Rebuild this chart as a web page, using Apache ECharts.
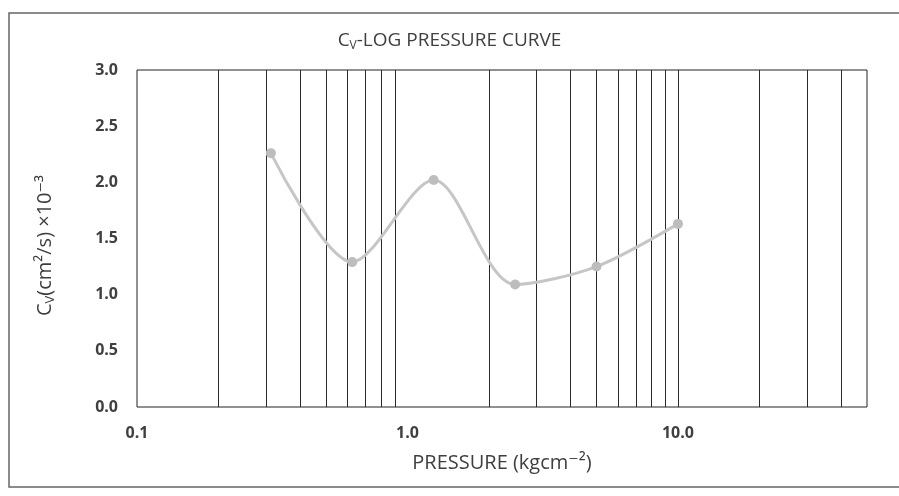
<!DOCTYPE html>
<html>
<head>
<meta charset="utf-8">
<script src="https://cdn.jsdelivr.net/npm/echarts@6/dist/echarts.min.js"></script>
<style>
  html, body { margin: 0; padding: 0; background: #fff; }
  #chart { width: 899px; height: 496px; }
</style>
</head>
<body>
<div id="chart"></div>
<script>
// pressure (kg/cm2) and Cv (cm2/s x10^-3)
const pressure = [0.3125, 0.625, 1.25, 2.5, 5, 10];
const cv = [2.26, 1.29, 2.02, 1.09, 1.25, 1.63];

// vertical log gridlines that show in the picture (no line at 1.0)
const gridX = [0.2, 0.3, 0.4, 0.5, 0.6, 0.7, 0.8, 0.9,
  2, 3, 4, 5, 6, 7, 8, 9, 10, 20, 30, 40];
const xLabels = [0.1, 1, 10];

const font = "'Open Sans', 'DejaVu Sans', sans-serif";
const textColor = "#3f3f3f";

const chart = echarts.init(document.getElementById("chart"));

chart.setOption({
  backgroundColor: "#fff",
  animation: false,
  title: {
    text: "{a|C}{s|V}{a|-LOG PRESSURE CURVE}",
    left: "center",
    top: 25,
    textStyle: {
      fontWeight: "normal",
      rich: {
        a: { fontFamily: font, fontSize: 19, fontWeight: "normal", color: textColor },
        s: { fontFamily: font, fontSize: 12, fontWeight: "normal", color: textColor, padding: [10, 0, 0, 0] },
      },
    },
  },
  graphic: [
    {
      type: "rect",
      shape: { x: 9, y: 13, width: 900, height: 474 },
      style: { fill: "none", stroke: "#666", lineWidth: 1.5 },
      silent: true,
    },
  ],
  grid: {
    left: 137,
    right: 32,
    top: 70,
    bottom: 89,
    show: true,
    borderColor: "#222",
    borderWidth: 1,
  },
  xAxis: {
    type: "log",
    logBase: 10,
    min: 0.1,
    max: 50,
    name: "PRESSURE (kgcm⁻²)",
    nameLocation: "middle",
    nameGap: 46,
    nameTextStyle: { fontFamily: font, fontSize: 20, color: textColor },
    axisLine: { show: false },
    axisTick: { show: false },
    splitLine: { show: false },
    axisLabel: {
      margin: 18,
      fontFamily: font,
      fontSize: 16,
      fontWeight: "bold",
      color: textColor,
      formatter: (v) => {
        const hit = xLabels.find((t) => Math.abs(t - v) < 1e-6);
        return hit === undefined ? "" : hit.toFixed(1);
      },
    },
  },
  yAxis: {
    type: "value",
    min: 0,
    max: 3,
    interval: 0.5,
    name: "{a|C}{s|V}{a|(cm²/s) ×10⁻³}",
    nameLocation: "middle",
    nameRotate: 90,
    nameGap: 80,
    nameTextStyle: {
      padding: [0, 14, 0, 0],
      rich: {
        a: { fontFamily: font, fontSize: 20, color: textColor },
        s: { fontFamily: font, fontSize: 13, color: textColor, padding: [10, 0, 0, 0] },
      },
    },
    axisLine: { show: false },
    axisTick: { show: false },
    splitLine: { show: false },
    axisLabel: {
      margin: 19,
      fontFamily: font,
      fontSize: 16,
      fontWeight: "bold",
      color: textColor,
      formatter: (v) => v.toFixed(1),
    },
  },
  series: [
    {
      name: "Cv",
      type: "line",
      smooth: 0.3,
      data: pressure.map((p, i) => [p, cv[i]]),
      symbol: "circle",
      symbolSize: 10,
      itemStyle: { color: "#bdbdbd" },
      lineStyle: { color: "#c6c6c6", width: 3 },
      z: 5,
      markLine: {
        silent: true,
        symbol: ["none", "none"],
        label: { show: false },
        lineStyle: { color: "#2a2a2a", width: 1, type: "solid" },
        emphasis: { disabled: true },
        data: gridX.map((v) => ({ xAxis: v })),
        z: 1,
      },
    },
  ],
});
</script>
</body>
</html>
